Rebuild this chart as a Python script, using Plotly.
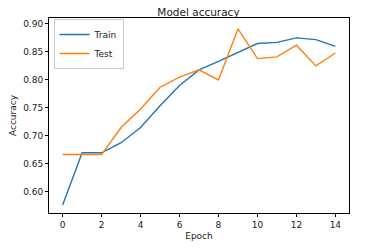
import plotly.graph_objects as go

epochs = list(range(15))
train_acc = [0.577, 0.670, 0.670, 0.688, 0.715, 0.754, 0.790, 0.818, 0.833, 0.849, 0.865, 0.867, 0.875, 0.872, 0.860]
test_acc = [0.667, 0.667, 0.667, 0.715, 0.748, 0.787, 0.805, 0.818, 0.800, 0.891, 0.838, 0.841, 0.862, 0.825, 0.848]
x_ticks = [0, 2, 4, 6, 8, 10, 12, 14]
y_ticks = [0.60, 0.65, 0.70, 0.75, 0.80, 0.85, 0.90]

font = "DejaVu Sans"
txt = "#222222"
fig = go.Figure()
fig.add_trace(go.Scatter(x=epochs, y=train_acc, mode="lines", name="Train",
                         line=dict(color="#1f77b4", width=1.4)))
fig.add_trace(go.Scatter(x=epochs, y=test_acc, mode="lines", name="Test",
                         line=dict(color="#ff7f0e", width=1.4)))

axis_common = dict(showgrid=False, zeroline=False, showline=True, linecolor="black",
                   linewidth=1, mirror=True, ticks="outside", ticklen=3, tickwidth=1,
                   tickcolor="black", automargin=False,
                   tickfont=dict(family=font, size=9, color=txt))

fig.update_layout(
    width=371, height=249,
    margin=dict(l=49, r=22, t=18, b=36, autoexpand=False),
    paper_bgcolor="white", plot_bgcolor="white",
    title=dict(text="Model accuracy", x=0.535, xanchor="center", y=0.952, yanchor="middle",
               font=dict(family=font, size=10.5, color=txt), automargin=False),
    xaxis=dict(range=[-0.7, 14.7], tickvals=x_ticks, ticktext=[str(v) for v in x_ticks],
               title=dict(text="Epoch", font=dict(family=font, size=9, color=txt), standoff=3),
               **axis_common),
    yaxis=dict(range=[0.5625, 0.9105], tickvals=y_ticks, ticktext=[f"{v:.2f}" for v in y_ticks],
               title=dict(text="Accuracy", font=dict(family=font, size=9, color=txt), standoff=5),
               **axis_common),
    legend=dict(x=0.015, y=0.995, xanchor="left", yanchor="top",
                bgcolor="rgba(255,255,255,0.8)", bordercolor="#cccccc", borderwidth=1,
                font=dict(family=font, size=9, color=txt), tracegroupgap=0,
                itemwidth=30),
    showlegend=True,
)

fig.write_html("out.html", config={"displayModeBar": False},
               post_script="document.body.style.margin='0';")
